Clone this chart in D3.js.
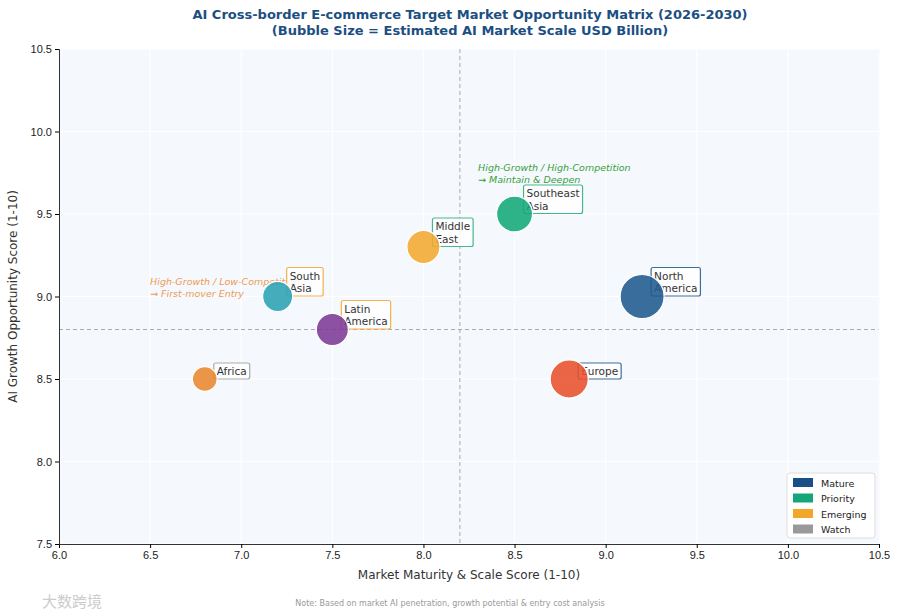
<!DOCTYPE html>
<html><head><meta charset="utf-8">
<script src="https://cdn.jsdelivr.net/npm/d3@7"></script>
<style>body{margin:0;background:#fff;font-family:"DejaVu Sans",sans-serif}</style>
</head><body><svg id="c" width="900" height="616"></svg>
<script>
const regions = ["North America", "Europe", "Southeast Asia", "Middle East", "South Asia", "Latin America", "Africa"];
const labelLines = [["North", "America"], ["Europe"], ["Southeast", "Asia"], ["Middle", "East"], ["South", "Asia"], ["Latin", "America"], ["Africa"]];
const maturity = [9.2, 8.8, 8.5, 8.0, 7.2, 7.5, 6.8];
const growth = [9.0, 8.5, 9.5, 9.3, 9.0, 8.8, 8.5];
const marketScale = [120, 90, 80, 68, 56, 64, 38];
const fills = ["#1f5a8e", "#e8502c", "#12a878", "#f2a930", "#2aa0b4", "#7d3995", "#e8862f"];
const tiers = ["Mature", "Mature", "Priority", "Priority", "Emerging", "Emerging", "Watch"];
const legendTiers = ["Mature", "Priority", "Emerging", "Watch"];
const tierColors = ["#1a4e86", "#14a57a", "#f2a72a", "#999999"];
const boxColors = {Mature: "#3d6d9c", Priority: "#43b78f", Emerging: "#f4b24a", Watch: "#aaaaaa"};
const xTicks = [6.0, 6.5, 7.0, 7.5, 8.0, 8.5, 9.0, 9.5, 10.0, 10.5];
const yTicks = [7.5, 8.0, 8.5, 9.0, 9.5, 10.0, 10.5];

const m = {left: 59, right: 21, top: 49, bottom: 72};
const W = 900, H = 616;
const svg = d3.select("#c");
const x = d3.scaleLinear().domain([6, 10.5]).range([m.left, W - m.right]);
const y = d3.scaleLinear().domain([7.5, 10.5]).range([H - m.bottom, m.top]);
const r = d3.scaleSqrt().domain([0, 120]).range([0, 22]);

svg.append("rect").attr("x", x(6)).attr("y", y(10.5)).attr("width", x(10.5) - x(6)).attr("height", y(7.5) - y(10.5)).attr("fill", "#f5f9fd");
svg.append("g").selectAll("line").data(xTicks).join("line")
  .attr("x1", d => x(d)).attr("x2", d => x(d)).attr("y1", y(10.5)).attr("y2", y(7.5)).attr("stroke", "#fff").attr("stroke-width", 1.2);
svg.append("g").selectAll("line").data(yTicks).join("line")
  .attr("y1", d => y(d)).attr("y2", d => y(d)).attr("x1", x(6)).attr("x2", x(10.5)).attr("stroke", "#fff").attr("stroke-width", 1.2);

svg.append("line").attr("x1", x(8.2)).attr("x2", x(8.2)).attr("y1", y(10.5)).attr("y2", y(7.5)).attr("stroke", "#aaa").attr("stroke-dasharray", "4,3");
svg.append("line").attr("y1", y(8.8)).attr("y2", y(8.8)).attr("x1", x(6)).attr("x2", x(10.5)).attr("stroke", "#aaa").attr("stroke-dasharray", "4,3");

const xa = svg.append("g").attr("transform", `translate(0,${y(7.5)})`).call(d3.axisBottom(x).tickValues(xTicks).tickFormat(d3.format(".1f")).tickSize(4));
const ya = svg.append("g").attr("transform", `translate(${x(6)},0)`).call(d3.axisLeft(y).tickValues(yTicks).tickFormat(d3.format(".1f")).tickSize(4));
[xa, ya].forEach(a => { a.selectAll("text").attr("font-size", 11).attr("fill", "#222"); a.select(".domain").attr("stroke", "#333"); });
svg.append("line").attr("x1", x(10.5)).attr("x2", x(10.5)).attr("y1", y(10.5)).attr("y2", y(7.5)).attr("stroke", "#f5f9fd");

svg.append("text").attr("x", (x(6) + x(10.5)) / 2).attr("y", 579).attr("text-anchor", "middle").attr("font-size", 12).attr("fill", "#333").text("Market Maturity & Scale Score (1-10)");
svg.append("text").attr("transform", `translate(17,${(y(7.5) + y(10.5)) / 2}) rotate(-90)`).attr("text-anchor", "middle").attr("font-size", 12).attr("fill", "#333").text("AI Growth Opportunity Score (1-10)");

svg.append("text").attr("x", 470).attr("y", 19).attr("text-anchor", "middle").attr("font-size", 13).attr("font-weight", "bold").attr("fill", "#1b4f82").text("AI Cross-border E-commerce Target Market Opportunity Matrix (2026-2030)");
svg.append("text").attr("x", 470).attr("y", 35).attr("text-anchor", "middle").attr("font-size", 13).attr("font-weight", "bold").attr("fill", "#1b4f82").text("(Bubble Size = Estimated AI Market Scale USD Billion)");

// quadrant notes
const g1 = svg.append("text").attr("x", x(8.3)).attr("y", 171).attr("font-size", 9.5).attr("font-style", "italic").attr("fill", "#3aa03a");
g1.append("tspan").text("High-Growth / High-Competition");
g1.append("tspan").attr("x", x(8.3)).attr("dy", 12).text("→ Maintain & Deepen");
const g2 = svg.append("text").attr("x", x(6.5)).attr("y", 285).attr("font-size", 9.5).attr("font-style", "italic").attr("fill", "#ee9a55");
g2.append("tspan").text("High-Growth / Low-Competition");
g2.append("tspan").attr("x", x(6.5)).attr("dy", 12).text("→ First-mover Entry");

// labels (behind bubbles)
regions.forEach((name, i) => {
  const lines = labelLines[i];
  const tx = x(maturity[i]) + 12;
  const ty = y(growth[i]) - (lines.length === 2 ? 17 : 4);
  const g = svg.append("g");
  const t = g.append("text").attr("x", tx).attr("y", ty).attr("font-size", 10.5).attr("fill", "#333");
  lines.forEach((l, k) => t.append("tspan").attr("x", tx).attr("dy", k ? 12.5 : 0).text(l));
  const b = t.node().getBBox();
  g.insert("rect", "text").attr("x", b.x - 3).attr("y", b.y - 2).attr("width", b.width + 6).attr("height", b.height + 4)
    .attr("rx", 2).attr("fill", "#fff").attr("fill-opacity", 0.85).attr("stroke", boxColors[tiers[i]]).attr("stroke-width", 1.2);
});

svg.append("g").selectAll("circle").data(regions).join("circle")
  .attr("cx", (d, i) => x(maturity[i])).attr("cy", (d, i) => y(growth[i]))
  .attr("r", (d, i) => r(marketScale[i])).attr("fill", (d, i) => fills[i]).attr("fill-opacity", 0.88)
  .attr("stroke", "#fff").attr("stroke-width", 1.2);

// legend
const lg = svg.append("g").attr("transform", "translate(787,473)");
lg.append("rect").attr("width", 88).attr("height", 65).attr("rx", 3).attr("fill", "#fff").attr("stroke", "#ddd");
legendTiers.forEach((t, i) => {
  lg.append("rect").attr("x", 6).attr("y", 5 + i * 15.5).attr("width", 20).attr("height", 9).attr("fill", tierColors[i]);
  lg.append("text").attr("x", 34).attr("y", 13.5 + i * 15.5).attr("font-size", 9.5).attr("fill", "#222").text(t);
});

svg.append("text").attr("x", 450).attr("y", 606).attr("text-anchor", "middle").attr("font-size", 8).attr("fill", "#999").text("Note: Based on market AI penetration, growth potential & entry cost analysis");
svg.append("text").attr("x", 42).attr("y", 607).attr("font-size", 15).attr("fill", "#ccc").attr("font-family", "Noto Sans CJK SC").text("大数跨境");
</script></body></html>
